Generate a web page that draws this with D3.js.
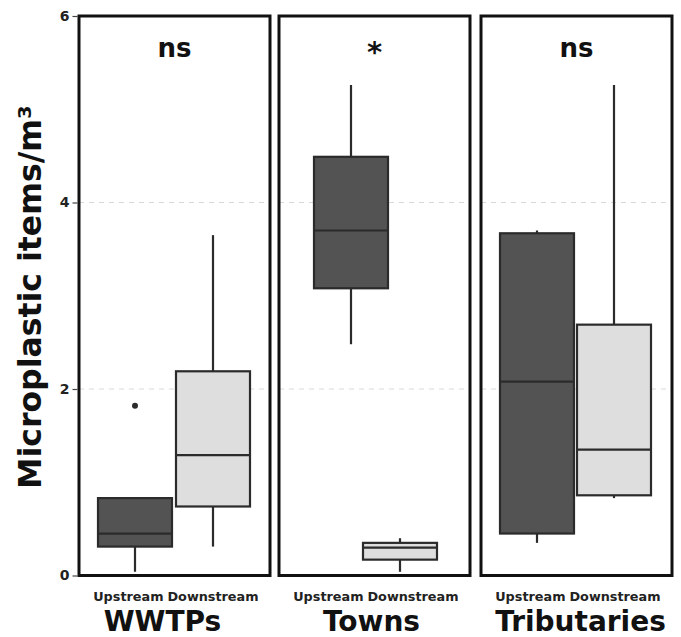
<!DOCTYPE html>
<html>
<head>
<meta charset="utf-8">
<script src="https://cdn.jsdelivr.net/npm/d3@7"></script>
<style>
  html, body { margin: 0; padding: 0; background: #fff; }
  svg { display: block; font-family: "DejaVu Sans", Verdana, sans-serif; }
</style>
</head>
<body>
<svg id="chart" width="681" height="637"></svg>
<script>
// Facets, groups and box statistics (microplastic items per m³)
const facets = ["WWTPs", "Towns", "Tributaries"];
const groups = ["Upstream", "Downstream"];
const signif = ["ns", "*", "ns"];
// one entry per facet x group: WWTPs-Up, WWTPs-Down, Towns-Up, Towns-Down, Trib-Up, Trib-Down
const lowerWhisker = [0.04, 0.31, 2.48, 0.04, 0.35, 0.83];
const q1           = [0.31, 0.74, 3.08, 0.17, 0.45, 0.86];
const median       = [0.45, 1.29, 3.70, 0.30, 2.08, 1.35];
const q3           = [0.83, 2.19, 4.49, 0.35, 3.67, 2.69];
const upperWhisker = [0.83, 3.65, 5.26, 0.40, 3.70, 5.26];
const outliers     = [[1.82], [], [], [], [], []];
const yTicks = [0, 2, 4, 6];

// layout
const plotTop = 16, plotBottom = 575.5;
const panelLeft = [79, 279, 481];
const panelW = 191;
const boxW = 74;
// horizontal dodge of the boxes within each facet (px, per group)
const dodge = [[0, 0], [16, -13], [0, -1]];
// horizontal shift of the facet titles (px)
const facetShift = [-12, -3, 4];
const fillCol = { Upstream: "#535353", Downstream: "#dedede" };
const strokeCol = "#2b2b2b";

const svg = d3.select("#chart");
const y = d3.scaleLinear().domain([0, 6]).range([plotBottom, plotTop]);
const x = d3.scalePoint().domain(groups).range([56, 134]);

const data = [];
facets.forEach((f, i) => groups.forEach((g, j) => {
  const k = i * groups.length + j;
  data.push({ facet: f, fi: i, group: g, gj: j,
    lo: lowerWhisker[k], q1: q1[k], med: median[k], q3: q3[k], hi: upperWhisker[k],
    out: outliers[k] });
}));

facets.forEach((f, i) => {
  const g = svg.append("g").attr("transform", `translate(${panelLeft[i]},0)`);

  // dashed grid lines
  g.selectAll("line.grid").data(yTicks.filter(t => t > 0 && t < 6)).join("line")
    .attr("class", "grid")
    .attr("x1", 0).attr("x2", panelW)
    .attr("y1", d => y(d)).attr("y2", d => y(d))
    .attr("stroke", "#d9d9d9").attr("stroke-width", 1)
    .attr("stroke-dasharray", "5,5");

  const boxes = g.selectAll("g.box").data(data.filter(d => d.fi === i)).join("g")
    .attr("class", "box")
    .attr("transform", d => `translate(${x(d.group) + dodge[i][d.gj]},0)`);

  // whiskers
  boxes.append("line")
    .attr("x1", 0).attr("x2", 0)
    .attr("y1", d => y(d.q3)).attr("y2", d => y(d.hi))
    .attr("stroke", strokeCol).attr("stroke-width", 2.2);
  boxes.append("line")
    .attr("x1", 0).attr("x2", 0)
    .attr("y1", d => y(d.q1)).attr("y2", d => y(d.lo))
    .attr("stroke", strokeCol).attr("stroke-width", 2.2);

  // boxes
  boxes.append("rect")
    .attr("x", -boxW / 2).attr("width", boxW)
    .attr("y", d => y(d.q3)).attr("height", d => y(d.q1) - y(d.q3))
    .attr("fill", d => fillCol[d.group])
    .attr("stroke", strokeCol).attr("stroke-width", 2.2);

  // medians
  boxes.append("line")
    .attr("x1", -boxW / 2).attr("x2", boxW / 2)
    .attr("y1", d => y(d.med)).attr("y2", d => y(d.med))
    .attr("stroke", strokeCol).attr("stroke-width", 2.2);

  // outliers
  boxes.selectAll("circle").data(d => d.out).join("circle")
    .attr("cx", 0).attr("cy", d => y(d)).attr("r", 3)
    .attr("fill", strokeCol);

  // panel border
  g.append("rect")
    .attr("x", 0).attr("y", plotTop)
    .attr("width", panelW).attr("height", plotBottom - plotTop)
    .attr("fill", "none").attr("stroke", "#111").attr("stroke-width", 3);

  // significance label
  g.append("text")
    .attr("x", panelW / 2).attr("y", signif[i] === "*" ? 62 : 57)
    .attr("text-anchor", "middle")
    .attr("font-weight", "bold")
    .attr("font-size", signif[i] === "*" ? 29 : 26)
    .attr("fill", "#111")
    .text(signif[i]);

  // x axis group labels: Downstream centred on its tick, Upstream set just to its left
  const down = g.append("text")
    .attr("x", x("Downstream")).attr("y", 601)
    .attr("text-anchor", "middle")
    .attr("font-weight", "bold").attr("font-size", 12.8)
    .attr("fill", "#222")
    .text("Downstream");
  const downLeft = x("Downstream") - down.node().getComputedTextLength() / 2;
  g.append("text")
    .attr("x", downLeft - 4).attr("y", 601)
    .attr("text-anchor", "end")
    .attr("font-weight", "bold").attr("font-size", 12.8)
    .attr("fill", "#222")
    .text("Upstream");

  // facet label
  g.append("text")
    .attr("x", panelW / 2 + facetShift[i]).attr("y", 631)
    .attr("text-anchor", "middle")
    .attr("font-weight", "bold").attr("font-size", 28)
    .attr("fill", "#111")
    .text(f);
});

// y axis
const yAxis = svg.append("g").attr("transform", `translate(${panelLeft[0] - 1.5},0)`)
  .call(d3.axisLeft(y).tickValues(yTicks).tickSize(5).tickPadding(3).tickFormat(d3.format("d")));
yAxis.select(".domain").remove();
yAxis.selectAll(".tick line").attr("stroke", "#444").attr("stroke-width", 1.2);
yAxis.selectAll(".tick text")
  .attr("font-family", "DejaVu Sans, sans-serif")
  .attr("font-weight", "bold").attr("font-size", 14).attr("fill", "#222");

// y axis title
svg.append("text")
  .attr("transform", `translate(41,${(104 + 490) / 2}) rotate(-90)`)
  .attr("text-anchor", "middle")
  .attr("font-weight", "bold").attr("font-size", 31.5)
  .attr("fill", "#111")
  .text("Microplastic items/m³");
</script>
</body>
</html>
